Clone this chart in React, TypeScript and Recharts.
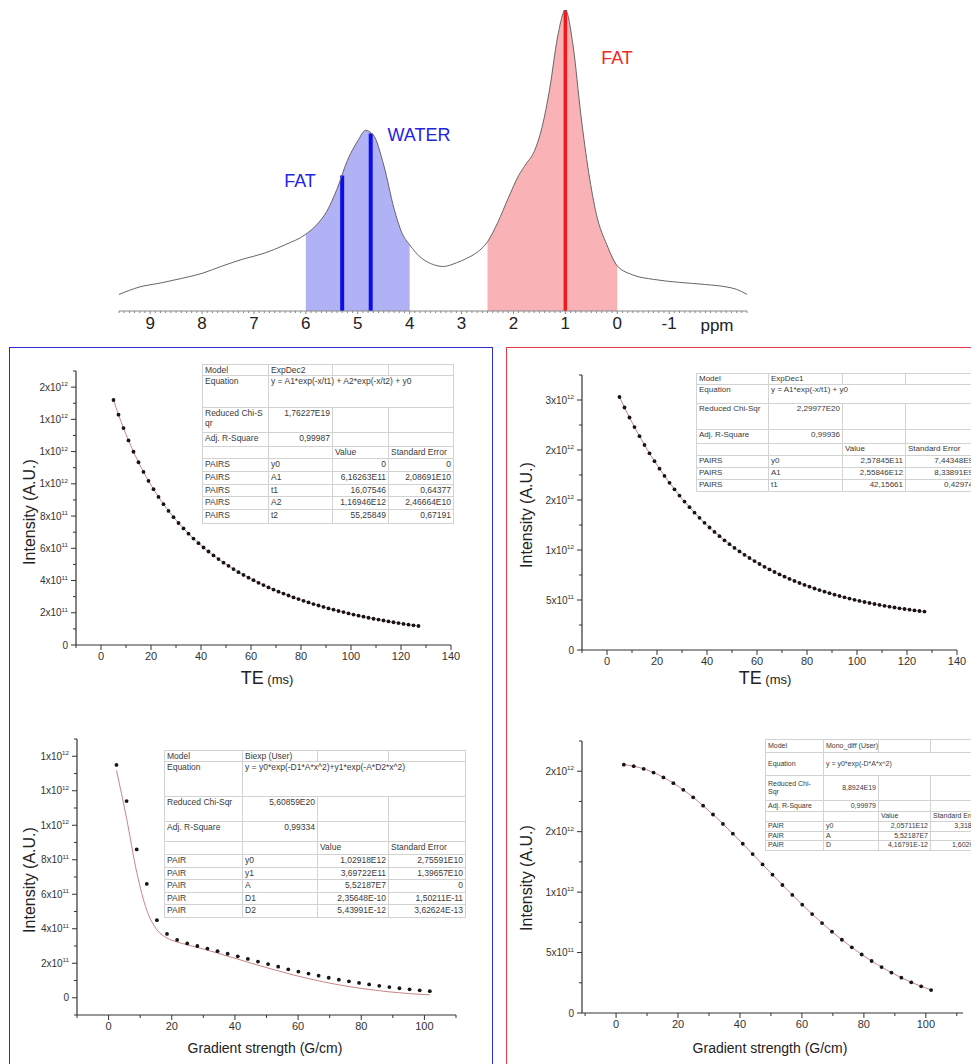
import React from 'react';
import { ComposedChart, Line, Area, XAxis, YAxis, ReferenceLine } from 'recharts';

const FONT = 'Arial, "Liberation Sans", Helvetica, sans-serif';

// ---------------- Spectrum (top) ----------------
const spectrumPpm = [9.6, 9.2, 8.8, 8.4, 8.0, 7.6, 7.2, 6.8, 6.4, 6.0, 5.8, 5.6, 5.4, 5.2, 5.0, 4.85, 4.7, 4.5, 4.3, 4.15, 4.0, 3.8, 3.6, 3.35, 3.1, 2.9, 2.7, 2.5, 2.3, 2.1, 1.9, 1.75, 1.6, 1.45, 1.3, 1.15, 1.0, 0.85, 0.7, 0.55, 0.4, 0.2, 0.0, -0.3, -0.7, -1.2, -1.7, -2.1, -2.3, -2.5];
const spectrumIntensity = [5.5, 8.0, 9.3, 10.8, 12.5, 15.0, 17.3, 19.2, 22.0, 25.5, 28.5, 33.0, 40.5, 50.0, 56.5, 60.0, 58.5, 48.5, 34.0, 26.0, 22.0, 18.0, 15.8, 14.8, 16.0, 17.5, 19.5, 23.0, 29.5, 37.5, 45.0, 49.0, 53.0, 61.0, 74.0, 91.0, 100.0, 88.0, 65.0, 46.0, 32.0, 22.0, 15.0, 12.0, 10.5, 9.5, 8.8, 8.0, 7.2, 5.5];
const blueRange = [4.0, 6.0];
const redRange = [0.0, 2.5];
const peakPpm = [5.3, 4.75, 1.0];
const peakHeight = [45, 59, 100];
const peakColor = ['#0c0ce6', '#0c0ce6', '#f01818'];
const ppmTicks = [9, 8, 7, 6, 5, 4, 3, 2, 1, 0, -1];

// ---------------- T2 decays (TE) ----------------
const teValues = [5, 7, 9, 11, 13, 15, 17, 19, 21, 23, 25, 27, 29, 31, 33, 35, 37, 39, 41, 43, 45, 47, 49, 51, 53, 55, 57, 59, 61, 63, 65, 67, 69, 71, 73, 75, 77, 79, 81, 83, 85, 87, 89, 91, 93, 95, 97, 99, 101, 103, 105, 107, 109, 111, 113, 115, 117, 119, 121, 123, 125, 127];
// intensities in units of 1e11
const waterTE = [15.20, 14.29, 13.46, 12.69, 11.99, 11.34, 10.74, 10.18, 9.67, 9.19, 8.74, 8.32, 7.93, 7.57, 7.23, 6.91, 6.60, 6.32, 6.05, 5.80, 5.56, 5.33, 5.11, 4.91, 4.71, 4.52, 4.35, 4.18, 4.02, 3.86, 3.72, 3.57, 3.44, 3.31, 3.19, 3.07, 2.95, 2.85, 2.74, 2.64, 2.54, 2.45, 2.36, 2.27, 2.19, 2.11, 2.04, 1.96, 1.89, 1.82, 1.76, 1.69, 1.63, 1.58, 1.52, 1.46, 1.41, 1.36, 1.31, 1.26, 1.22, 1.18];
const fatTE = [25.30, 24.25, 23.25, 22.29, 21.38, 20.50, 19.67, 18.88, 18.13, 17.41, 16.72, 16.07, 15.44, 14.84, 14.28, 13.73, 13.22, 12.72, 12.25, 11.81, 11.38, 10.97, 10.58, 10.21, 9.86, 9.52, 9.20, 8.89, 8.60, 8.32, 8.06, 7.80, 7.56, 7.33, 7.11, 6.90, 6.70, 6.51, 6.33, 6.15, 5.99, 5.83, 5.68, 5.53, 5.40, 5.27, 5.14, 5.02, 4.91, 4.80, 4.70, 4.60, 4.51, 4.42, 4.33, 4.25, 4.17, 4.10, 4.03, 3.96, 3.90, 3.84];

// ---------------- Diffusion decays ----------------
const gradValues = [2.5, 5.7, 8.9, 12.1, 15.3, 18.5, 21.7, 24.9, 28.1, 31.3, 34.5, 37.7, 40.9, 44.1, 47.3, 50.5, 53.7, 56.9, 60.1, 63.3, 66.5, 69.7, 72.9, 76.1, 79.3, 82.5, 85.7, 88.9, 92.1, 95.3, 98.5, 101.7];
const waterDiff = [13.5, 11.4, 8.6, 6.6, 4.5, 3.7, 3.35, 3.15, 3.0, 2.85, 2.7, 2.55, 2.4, 2.25, 2.1, 1.95, 1.8, 1.65, 1.52, 1.4, 1.28, 1.16, 1.05, 0.95, 0.86, 0.77, 0.69, 0.62, 0.55, 0.49, 0.43, 0.38];
const waterDiffFit = [13.18, 10.40, 7.28, 5.07, 3.94, 3.46, 3.23, 3.07, 2.92, 2.76, 2.59, 2.41, 2.24, 2.06, 1.89, 1.72, 1.56, 1.40, 1.25, 1.11, 0.98, 0.86, 0.75, 0.65, 0.56, 0.48, 0.41, 0.34, 0.29, 0.24, 0.20, 0.17];
const fatDiff = [20.54, 20.42, 20.20, 19.89, 19.49, 19.01, 18.46, 17.84, 17.15, 16.42, 15.64, 14.83, 14.00, 13.15, 12.29, 11.44, 10.59, 9.77, 8.96, 8.18, 7.44, 6.73, 6.06, 5.43, 4.84, 4.30, 3.80, 3.34, 2.92, 2.54, 2.21, 1.90];
const fatDiffFit = [20.54, 20.42, 20.20, 19.89, 19.49, 19.01, 18.46, 17.84, 17.15, 16.42, 15.64, 14.83, 14.00, 13.15, 12.29, 11.44, 10.59, 9.77, 8.96, 8.18, 7.44, 6.73, 6.06, 5.43, 4.84, 4.30, 3.80, 3.34, 2.92, 2.54, 2.21, 1.90];

// ---------------- Axis ticks ----------------
const teTicks = [0, 20, 40, 60, 80, 100, 120, 140];
const gradTicks = [0, 20, 40, 60, 80, 100];
const tlYTicks = [0, 2, 4, 6, 8, 10, 12, 14, 16];
const tlYLabels = ['0', '2x10^11', '4x10^11', '6x10^11', '8x10^11', '1x10^12', '1x10^12', '1x10^12', '2x10^12'];
const trYTicks = [0, 5, 10, 15, 20, 25];
const trYLabels = ['0', '5x10^11', '1x10^12', '2x10^12', '2x10^12', '3x10^12'];
const blYTicks = [0, 2, 4, 6, 8, 10, 12, 14];
const blYLabels = ['0', '2x10^11', '4x10^11', '6x10^11', '8x10^11', '1x10^12', '1x10^12', '1x10^12'];
const brYTicks = [0, 5, 10, 15, 20];
const brYLabels = ['0', '5x10^11', '1x10^12', '2x10^12', '2x10^12'];

// ---------------- Fit tables ----------------
type Cell = string | { t: string; a?: 'left' | 'right'; s?: number };
const table1: Cell[][] = [
  ['Model', 'ExpDec2', '', ''],
  ['Equation', { t: 'y = A1*exp(-x/t1) + A2*exp(-x/t2) + y0', s: 3 }],
  ['Reduced Chi-S\nqr', { t: '1,76227E19', a: 'right' }, '', ''],
  ['Adj. R-Square', { t: '0,99987', a: 'right' }, '', ''],
  ['', '', 'Value', 'Standard Error'],
  ['PAIRS', 'y0', { t: '0', a: 'right' }, { t: '0', a: 'right' }],
  ['PAIRS', 'A1', { t: '6,16263E11', a: 'right' }, { t: '2,08691E10', a: 'right' }],
  ['PAIRS', 't1', { t: '16,07546', a: 'right' }, { t: '0,64377', a: 'right' }],
  ['PAIRS', 'A2', { t: '1,16946E12', a: 'right' }, { t: '2,46664E10', a: 'right' }],
  ['PAIRS', 't2', { t: '55,25849', a: 'right' }, { t: '0,67191', a: 'right' }],
];
const table2: Cell[][] = [
  ['Model', 'ExpDec1', '', ''],
  ['Equation', { t: 'y = A1*exp(-x/t1) + y0', s: 3 }],
  ['Reduced Chi-Sqr', { t: '2,29977E20', a: 'right' }, '', ''],
  ['Adj. R-Square', { t: '0,99936', a: 'right' }, '', ''],
  ['', '', 'Value', 'Standard Error'],
  ['PAIRS', 'y0', { t: '2,57845E11', a: 'right' }, { t: '7,44348E9', a: 'right' }],
  ['PAIRS', 'A1', { t: '2,55846E12', a: 'right' }, { t: '8,33891E9', a: 'right' }],
  ['PAIRS', 't1', { t: '42,15661', a: 'right' }, { t: '0,42974', a: 'right' }],
];
const table3: Cell[][] = [
  ['Model', 'Biexp (User)', '', ''],
  ['Equation', { t: 'y = y0*exp(-D1*A*x^2)+y1*exp(-A*D2*x^2)', s: 3 }],
  ['Reduced Chi-Sqr', { t: '5,60859E20', a: 'right' }, '', ''],
  ['Adj. R-Square', { t: '0,99334', a: 'right' }, '', ''],
  ['', '', 'Value', 'Standard Error'],
  ['PAIR', 'y0', { t: '1,02918E12', a: 'right' }, { t: '2,75591E10', a: 'right' }],
  ['PAIR', 'y1', { t: '3,69722E11', a: 'right' }, { t: '1,39657E10', a: 'right' }],
  ['PAIR', 'A', { t: '5,52187E7', a: 'right' }, { t: '0', a: 'right' }],
  ['PAIR', 'D1', { t: '2,35648E-10', a: 'right' }, { t: '1,50211E-11', a: 'right' }],
  ['PAIR', 'D2', { t: '5,43991E-12', a: 'right' }, { t: '3,62624E-13', a: 'right' }],
];
const table4: Cell[][] = [
  ['Model', 'Mono_diff (User)', '', ''],
  ['Equation', { t: 'y = y0*exp(-D*A*x^2)', s: 3 }],
  ['Reduced Chi-\nSqr', { t: '8,8924E19', a: 'right' }, '', ''],
  ['Adj. R-Square', { t: '0,99979', a: 'right' }, '', ''],
  ['', '', 'Value', 'Standard Error'],
  ['PAIR', 'y0', { t: '2,05711E12', a: 'right' }, { t: '3,31857E10', a: 'right' }],
  ['PAIR', 'A', { t: '5,52187E7', a: 'right' }, { t: '0', a: 'right' }],
  ['PAIR', 'D', { t: '4,16791E-12', a: 'right' }, { t: '1,60204E-13', a: 'right' }],
];

// ---------------- helpers ----------------
const near = (a: number, b: number) => Math.abs(a - b) < 1e-6;

function withMinors(majors: number[], step: number, lo: number, hi: number) {
  const out: number[] = [];
  for (let v = lo; v <= hi + 1e-9; v += step) out.push(Math.round(v * 1000) / 1000);
  majors.forEach((m) => { if (!out.some((o) => near(o, m))) out.push(m); });
  return out.sort((a, b) => a - b);
}

function SciText({ x, y, text, anchor, fs }: { x: number; y: number; text: string; anchor: string; fs: number }) {
  const parts = text.split('^');
  return (
    <text x={x} y={y} textAnchor={anchor as any} fontFamily={FONT} fontSize={fs} fill="#333">
      {parts[0]}
      {parts[1] ? <tspan dy={-fs * 0.45} fontSize={fs * 0.62}>{parts[1]}</tspan> : null}
    </text>
  );
}

const makeYTick = (majors: number[], labels: string[], fs = 10) => (p: any) => {
  const v = p.payload.value;
  const i = majors.findIndex((m) => near(m, v));
  const len = i >= 0 ? 5 : 3;
  return (
    <g>
      <line x1={p.x} x2={p.x - len} y1={p.y} y2={p.y} stroke="#333" strokeWidth={1} />
      {i >= 0 ? <SciText x={p.x - 8} y={p.y + fs * 0.35} text={labels[i]} anchor="end" fs={fs} /> : null}
    </g>
  );
};

const makeXTick = (majors: number[], fs = 11, color = '#333', majLen = 5, minLen = 3, gap = 4) => (p: any) => {
  const v = p.payload.value;
  const i = majors.findIndex((m) => near(m, v));
  const len = i >= 0 ? majLen : minLen;
  return (
    <g>
      <line x1={p.x} x2={p.x} y1={p.y} y2={p.y + len} stroke={color} strokeWidth={1} />
      {i >= 0 ? (
        <text x={p.x} y={p.y + len + gap + fs * 0.75} textAnchor="middle" fontFamily={FONT} fontSize={fs} fill={color === '#888' ? '#222' : '#333'}>
          {String(majors[i])}
        </text>
      ) : null}
    </g>
  );
};

const Dot = (p: any) => {
  if (p.cx == null || p.cy == null || p.value == null) return <g key={p.key} />;
  return <circle key={p.key} cx={p.cx} cy={p.cy} r={1.9} fill="#151515" />;
};

function Label({ x, y, text, size, color = '#222', rotate = false }: { x: number; y: number; text: React.ReactNode; size: number; color?: string; rotate?: boolean }) {
  return (
    <div
      style={{
        position: 'absolute', left: x, top: y, transform: `translate(-50%, -50%)${rotate ? ' rotate(-90deg)' : ''}`,
        fontFamily: FONT, fontSize: size, color, whiteSpace: 'nowrap', lineHeight: 1,
      }}
    >
      {text}
    </div>
  );
}

function FitTable({ left, top, colW, rowH, rows, fs, valign = 'top' }: { left: number; top: number; colW: number[]; rowH: number[]; rows: Cell[][]; fs: number; valign?: string }) {
  const w = colW.reduce((a, b) => a + b, 0);
  return (
    <table
      style={{
        position: 'absolute', left, top, width: w, borderCollapse: 'collapse', tableLayout: 'fixed',
        fontFamily: FONT, fontSize: fs, color: '#3a3a3a', background: '#fff', border: '1px solid #8a8a8a',
      }}
    >
      <colgroup>{colW.map((c, i) => <col key={i} style={{ width: c }} />)}</colgroup>
      <tbody>
        {rows.map((r, ri) => (
          <tr key={ri} style={{ height: rowH[ri] }}>
            {r.map((c, ci) => {
              const cell = typeof c === 'string' ? { t: c } : c;
              return (
                <td
                  key={ci}
                  colSpan={(cell as any).s || 1}
                  style={{
                    border: '1px solid #d2d2d2', padding: '0 2px', verticalAlign: valign as any, textAlign: (cell as any).a || 'left',
                    lineHeight: `${fs + 1.5}px`, whiteSpace: 'pre', overflow: 'hidden', height: rowH[ri] - 1, boxSizing: 'border-box',
                  }}
                >
                  {cell.t}
                </td>
              );
            })}
          </tr>
        ))}
      </tbody>
    </table>
  );
}

// ---------------- charts ----------------
function Spectrum() {
  const data = spectrumPpm.map((p, i) => ({
    x: p,
    y: spectrumIntensity[i],
    blue: p >= blueRange[0] - 1e-9 && p <= blueRange[1] + 1e-9 ? spectrumIntensity[i] : null,
    red: p >= redRange[0] - 1e-9 && p <= redRange[1] + 1e-9 ? spectrumIntensity[i] : null,
  }));
  const ticks = withMinors(ppmTicks, 0.1, -2.5, 9.6);
  return (
    <div style={{ position: 'absolute', left: 0, top: 0 }}>
      <ComposedChart width={979} height={345} data={data} margin={{ top: 10, right: 232, bottom: 4, left: 119 }}>
        <XAxis
          dataKey="x" type="number" domain={[-2.5, 9.6]} reversed allowDataOverflow ticks={ticks} interval={0}
          tickSize={0} tickMargin={0} height={30} axisLine={{ stroke: '#888', strokeWidth: 1 }} tickLine={false}
          tick={makeXTick(ppmTicks, 17, '#888', 3, 2, 2)}
        />
        <YAxis hide domain={[0, 100]} allowDataOverflow />
        <Area dataKey="blue" type="monotone" stroke="none" fill="#b1b1f6" fillOpacity={1} connectNulls={false} isAnimationActive={false} />
        <Area dataKey="red" type="monotone" stroke="none" fill="#f9b2b5" fillOpacity={1} connectNulls={false} isAnimationActive={false} />
        {peakPpm.map((p, i) => (
          <ReferenceLine key={i} segment={[{ x: p, y: 0 }, { x: p, y: peakHeight[i] }]} stroke={peakColor[i]} strokeWidth={i === 2 ? 3.5 : 4} />
        ))}
        <Line dataKey="y" type="monotone" stroke="#666" strokeWidth={1} dot={false} isAnimationActive={false} />
      </ComposedChart>
    </div>
  );
}

type PanelProps = {
  left: number; top: number; width: number; height: number;
  margin: { top: number; right: number; bottom: number; left: number };
  yAxisWidth: number; xHeight: number;
  xDomain: [number, number]; xMajors: number[]; xMinorLo: number; xMinorHi: number;
  yDomain: [number, number]; yMajors: number[]; yLabels: string[]; yMinorStep: number;
  xs: number[]; ys: number[]; fit: number[];
};

function DecayPanel(p: PanelProps) {
  const data = p.xs.map((x, i) => ({ x, y: p.ys[i], fit: p.fit[i] }));
  const xt = withMinors(p.xMajors, 10, p.xMinorLo, p.xMinorHi);
  const yt = withMinors(p.yMajors, p.yMinorStep, p.yDomain[0], p.yDomain[1]);
  return (
    <div style={{ position: 'absolute', left: p.left, top: p.top }}>
      <ComposedChart width={p.width} height={p.height} data={data} margin={p.margin}>
        <XAxis
          dataKey="x" type="number" domain={p.xDomain} allowDataOverflow ticks={xt} interval={0}
          tickSize={0} tickMargin={0} height={p.xHeight} axisLine={{ stroke: '#333', strokeWidth: 1.2 }} tickLine={false}
          tick={makeXTick(p.xMajors, 11, '#333', 5, 3, 2)}
        />
        <YAxis
          type="number" domain={p.yDomain} allowDataOverflow ticks={yt} interval={0} width={p.yAxisWidth}
          tickSize={0} tickMargin={0} axisLine={{ stroke: '#333', strokeWidth: 1.2 }} tickLine={false}
          tick={makeYTick(p.yMajors, p.yLabels, 10)}
        />
        <Line dataKey="fit" type="monotone" stroke="#c98585" strokeWidth={1} dot={false} isAnimationActive={false} />
        <Line dataKey="y" stroke="none" dot={<Dot />} activeDot={false} isAnimationActive={false} />
      </ComposedChart>
    </div>
  );
}

const teTitle = (
  <span>
    <span style={{ fontSize: 18 }}>TE</span>
    <span style={{ fontSize: 13 }}> (ms)</span>
  </span>
);

export default function App() {
  return (
    <div style={{ position: 'relative', width: 979, height: 1064, margin: '-8px 0 0 -8px', overflow: 'hidden', background: '#fff' }}>
      <Spectrum />
      <Label x={300} y={181} text="FAT" size={18} color="#2424e0" />
      <Label x={419} y={135} text="WATER" size={18} color="#2424e0" />
      <Label x={617} y={58} text="FAT" size={18} color="#f02828" />
      <Label x={717} y={325} text="ppm" size={17} color="#222" />

      {/* panel frames */}
      <div style={{ position: 'absolute', left: 9, top: 347, width: 484, height: 730, border: '1.5px solid #2b2bd0', boxSizing: 'border-box' }} />
      <div style={{ position: 'absolute', left: 506, top: 347, width: 490, height: 730, border: '1.5px solid #e63a4a', boxSizing: 'border-box' }} />

      {/* top-left: water/fat T2 decay */}
      <DecayPanel
        left={0} top={345} width={493} height={340}
        margin={{ top: 26, right: 42, bottom: 10, left: 0 }} yAxisWidth={76} xHeight={30}
        xDomain={[-10, 140]} xMajors={teTicks} xMinorLo={-10} xMinorHi={140}
        yDomain={[0, 17]} yMajors={tlYTicks} yLabels={tlYLabels} yMinorStep={1}
        xs={teValues} ys={waterTE} fit={waterTE}
      />
      <Label x={30} y={512} text="Intensity (A.U.)" size={16} rotate />
      <Label x={267} y={678} text={teTitle} size={18} />

      {/* top-right: fat T2 decay */}
      <DecayPanel
        left={500} top={345} width={479} height={340}
        margin={{ top: 30, right: 22, bottom: 5, left: 0 }} yAxisWidth={82} xHeight={30}
        xDomain={[-10, 140]} xMajors={teTicks} xMinorLo={-10} xMinorHi={140}
        yDomain={[0, 27.5]} yMajors={trYTicks} yLabels={trYLabels} yMinorStep={2.5}
        xs={teValues} ys={fatTE} fit={fatTE}
      />
      <Label x={527} y={515} text="Intensity (A.U.)" size={16} rotate />
      <Label x={765} y={678} text={teTitle} size={18} />

      {/* bottom-left: diffusion biexponential */}
      <DecayPanel
        left={0} top={700} width={493} height={364}
        margin={{ top: 39, right: 37, bottom: 19, left: 0 }} yAxisWidth={77} xHeight={30}
        xDomain={[-10, 110]} xMajors={gradTicks} xMinorLo={-10} xMinorHi={110}
        yDomain={[-1, 15]} yMajors={blYTicks} yLabels={blYLabels} yMinorStep={1}
        xs={gradValues} ys={waterDiff} fit={waterDiffFit}
      />
      <Label x={30} y={880} text="Intensity (A.U.)" size={16} rotate />
      <Label x={265} y={1048} text="Gradient strength (G/cm)" size={14} />

      {/* bottom-right: diffusion mono-exponential */}
      <DecayPanel
        left={500} top={700} width={479} height={364}
        margin={{ top: 41, right: 16, bottom: 21, left: 0 }} yAxisWidth={82} xHeight={30}
        xDomain={[-11, 112]} xMajors={gradTicks} xMinorLo={-10} xMinorHi={110}
        yDomain={[0, 22.5]} yMajors={brYTicks} yLabels={brYLabels} yMinorStep={2.5}
        xs={gradValues} ys={fatDiff} fit={fatDiffFit}
      />
      <Label x={527} y={878} text="Intensity (A.U.)" size={16} rotate />
      <Label x={770} y={1048} text="Gradient strength (G/cm)" size={14} />

      <FitTable left={202} top={364} colW={[66, 64, 56, 65]} rowH={[11, 32, 25, 14, 12, 13, 13, 12, 13, 14]} rows={table1} fs={8.5} />
      <FitTable left={696} top={373} colW={[72, 74, 63, 70]} rowH={[11, 19, 26, 14, 12, 12, 12, 12]} rows={table2} fs={8} />
      <FitTable left={164} top={750} colW={[78, 75, 71, 77]} rowH={[10, 35, 25, 20, 13, 13, 12, 13, 12, 13]} rows={table3} fs={8.5} />
      <FitTable left={765} top={739} colW={[58, 55, 52, 64]} rowH={[13, 23, 25, 11, 10, 9, 9, 9]} rows={table4} fs={7} valign="middle" />
    </div>
  );
}
